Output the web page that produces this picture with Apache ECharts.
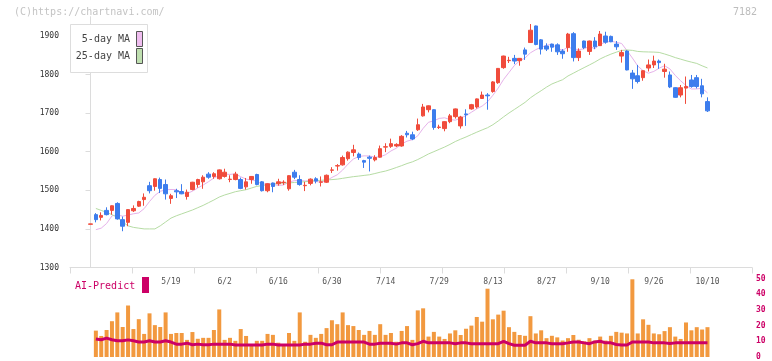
<!DOCTYPE html>
<html><head><meta charset="utf-8">
<script src="https://cdn.jsdelivr.net/npm/echarts@6/dist/echarts.min.js"></script>
<style>html,body{margin:0;padding:0;background:#fff;}#c{width:772px;height:361px;}</style>
</head><body><div id="c"></div>
<script>
// ---- data (index 0 = 4/23 ... index 115 = 10/10) ----
const opens = [1412,1437,1430,1448,1448,1466,1424,1417,1447,1459,
1476,1512,1510,1528,1515,1479,1499,1497,1484,1502,
1515,1522,1542,1536,1530,1536,1528,1528,1528,1509,
1528,1541,1522,1499,1519,1517,1520,1504,1547,1528,
1512,1518,1530,1521,1521,1552,1563,1566,1582,1598,
1594,1577,1586,1579,1586,1612,1614,1615,1615,1648,
1644,1657,1693,1709,1709,1663,1660,1678,1691,1667,
1698,1711,1716,1738,1747,1756,1779,1818,1836,1842,
1836,1864,1883,1926,1890,1874,1879,1877,1861,1870,
1906,1844,1887,1860,1887,1875,1900,1899,1879,1848,
1861,1804,1797,1792,1817,1825,1835,1808,1799,1766,
1747,1765,1786,1792,1771,1730];
const closes = [1413,1424,1435,1437,1460,1426,1407,1450,1453,1471,
1482,1499,1530,1505,1491,1486,1496,1491,1495,1521,
1528,1534,1534,1543,1553,1547,1529,1542,1505,1522,
1536,1515,1499,1517,1510,1522,1521,1538,1534,1515,
1513,1529,1524,1522,1539,1553,1564,1585,1599,1605,
1585,1573,1583,1585,1608,1613,1621,1619,1640,1644,
1633,1670,1716,1719,1663,1664,1678,1693,1711,1690,
1696,1722,1737,1747,1745,1781,1816,1848,1837,1835,
1842,1853,1915,1878,1866,1866,1871,1859,1854,1905,
1844,1861,1870,1887,1872,1905,1884,1885,1872,1857,
1812,1789,1782,1810,1825,1835,1831,1814,1768,1741,
1766,1769,1769,1769,1750,1706];
const lows = [1412,1417,1422,1435,1437,1424,1394,1407,1444,1457,
1460,1492,1499,1493,1476,1465,1480,1490,1476,1500,
1507,1504,1530,1530,1528,1533,1521,1526,1503,1502,
1517,1513,1497,1495,1495,1512,1514,1499,1529,1512,
1498,1513,1518,1510,1519,1545,1551,1564,1577,1588,
1579,1558,1549,1575,1585,1599,1610,1612,1613,1637,
1630,1654,1691,1702,1657,1659,1653,1674,1686,1660,
1667,1709,1712,1737,1709,1753,1776,1815,1830,1827,
1823,1838,1882,1876,1852,1861,1859,1851,1841,1859,
1834,1835,1866,1851,1866,1874,1880,1884,1864,1831,
1811,1763,1777,1784,1808,1817,1815,1792,1765,1740,
1741,1724,1766,1764,1741,1703];
const highs = [1413,1441,1443,1456,1461,1469,1432,1451,1461,1473,
1492,1522,1531,1533,1528,1491,1504,1516,1502,1522,
1530,1539,1547,1547,1554,1556,1539,1548,1533,1532,
1537,1543,1524,1518,1520,1530,1526,1539,1553,1539,
1522,1531,1534,1536,1541,1560,1568,1590,1601,1618,
1598,1579,1590,1591,1616,1622,1634,1622,1643,1654,
1652,1686,1724,1720,1710,1670,1679,1698,1712,1693,
1710,1724,1738,1756,1752,1783,1817,1849,1846,1851,
1843,1870,1931,1927,1892,1881,1880,1881,1866,1908,
1910,1868,1888,1888,1897,1913,1911,1901,1887,1864,
1863,1812,1825,1811,1839,1849,1839,1828,1808,1767,
1773,1795,1799,1799,1789,1741];
const volumes = [null,16.8,13.4,17.2,22.8,28.4,19.1,32.8,17.8,24.1,
14.7,27.8,20.3,19.1,28.4,14.7,15.3,15.3,10.9,15.9,
11.6,12.2,12.2,17.2,30.3,10.9,12.2,10.3,17.8,13.4,
7.8,10.3,10.3,14.7,14.1,9.1,7.8,15.3,10.3,28.4,
9.7,14.1,12.2,14.7,18.4,23.4,20.9,28.4,20.3,19.7,
17.2,14.1,16.6,14.1,20.9,14.1,15.3,9.7,16.6,19.7,
10.9,29.7,31,13,16,13,11.5,15,17,14,
18,20,25.5,22.5,43.5,24,27,29.5,19,16,
14,13.5,26,15,17,12,13.5,12.5,10.5,12,
14,11,10,12,10.5,13,10.5,13.5,16,15.5,
15,49.5,15,24,20.5,15,14.5,16.5,19,13,
11.5,22,17,19,17.5,19];
const ma5 = [null,1398,1402,1414,1433.8,1436.4,1433,1436,1439.2,1441.4,
1452.6,1471,1487,1497.4,1501.4,1502.2,1501.6,1493.8,1491.8,1497.8,
1506.2,1513.8,1522.4,1532,1538.4,1542.2,1541.2,1542.8,1535.2,1529,
1526.8,1524,1515.4,1517.8,1515.4,1512.6,1513.8,1521.6,1525,1526,
1524.2,1525.8,1523,1520.6,1525.4,1533.4,1540.4,1552.6,1568,1581.2,
1587.6,1589.4,1589,1586.2,1586.8,1592.4,1602,1609.2,1620.2,1627.4,
1631.4,1641.2,1660.6,1676.4,1680.2,1686.4,1688,1683.4,1681.8,1687.2,
1693.6,1702.4,1711.2,1718.4,1729.4,1746.4,1765.2,1787.4,1805.4,1823.4,
1835.6,1843,1856.4,1864.6,1870.8,1875.6,1879.2,1868,1863.2,1871,
1866.6,1864.6,1866.8,1873.4,1866.8,1879,1883.6,1886.6,1883.6,1880.6,
1862,1843,1822.4,1810,1803.6,1808.2,1816.6,1823,1814.6,1797.8,
1784,1771.6,1762.6,1762.8,1764.6,1752.6];
const ma25 = [null,1453,1448,1443,1437,1430,1418,1408,1404,1402,
1400,1400,1400,1408,1418,1428,1434,1439,1444,1449,
1455,1461,1468,1475,1482.6,1487.9,1492.1,1496.4,1499.1,1501.6,
1506,1510.3,1512.3,1514.8,1516.4,1518,1518.9,1519.2,1520.4,1521.3,
1522.4,1523.7,1525,1526.1,1526.8,1527.8,1529,1531.1,1533.3,1535.4,
1536.9,1538.7,1540.3,1543.5,1547,1550,1554.3,1559.1,1564,1569.4,
1573.8,1579.8,1586.9,1594.3,1600.2,1606.2,1612.2,1619,1626.5,1632.6,
1638.3,1644.6,1650.7,1656.6,1662.2,1670,1679.8,1690.4,1700.4,1709.5,
1718.7,1728,1739.8,1749.3,1758.2,1767.5,1775.6,1781.3,1786.7,1796.4,
1803.6,1810.9,1818,1825,1832.3,1840.6,1847.1,1853,1858,1862.5,
1863.8,1862.7,1860,1859,1858.6,1858.3,1857.4,1853.4,1849,1844,
1840,1835.9,1832.3,1828.9,1822.7,1817.2];
const aiPredict = [null,11.5,11,12,11,10.3,10.3,10.9,10.3,9.5,
9.5,10.3,9.5,9.5,10.3,9.5,8.2,8.2,8.8,7.8,
8.2,7.8,7.8,8.2,8.2,8.2,8.2,7.6,7.6,7.6,
7.6,7.6,7.6,8.2,8.2,7.6,7.6,7.6,7.6,7.6,
8.2,8.2,8.8,8.8,7.8,7.8,9.5,9.5,9.5,9.5,
9.5,9.5,8.2,8.2,8.8,8.8,8.8,8.2,9,9,
7.8,8.5,10,9,9,9,9,9,8.5,9,
9,8.5,8.5,8.5,8.5,8.5,8.5,10,8.5,7.5,
7.5,7.5,10,9,9,9,8.5,8.5,8.5,9,
9.6,9.6,9,8.5,9.6,10,9,9,8,7.6,
7.6,9.6,9.6,9.6,9.6,9,9,9,8.6,9,
9,9,9,9,9,9];
const tickLabels = ['5/19','6/2','6/16','6/30','7/14','7/29','8/13','8/27','9/10','9/26','10/10'];
const tickLabelIndex = [15,25,35,45,55,65,75,85,95,105,115];
const priceTicks = [1300,1400,1500,1600,1700,1800,1900];
const volumeTicks = [0,10,20,30,40,50];

// ---- layout ----
const FONT = '"DejaVu Sans Mono", monospace';
const PX_PER = 5.365;                 // pixels per trading day
const X_MIN = -(90.5 - 70) / PX_PER;  // first candle at x=90.5
const X_MAX = X_MIN + 682 / PX_PER;
const xTickVals = [];
for (let k = 0; k <= 11; k++) xTickVals.push(X_MIN + k * 62 / PX_PER);

const candleData = opens.map((o, i) => [i, o, closes[i], lows[i], highs[i]]);
const volData = volumes.map((v, i) => [i, v]).filter(d => d[1] != null);
const toXY = arr => arr.map((v, i) => [i, v]);

const chart = echarts.init(document.getElementById('c'), null, {renderer: 'canvas'});
chart.setOption({
  animation: false,
  backgroundColor: '#fff',
  grid: [
    {left: 70, right: 20, top: 16.7, height: 250.8},
    {left: 70, right: 20, top: 278.5, height: 80}
  ],
  xAxis: [
    {type: 'value', gridIndex: 0, min: X_MIN, max: X_MAX,
     axisLine: {show: true, lineStyle: {color: '#dcdcdc', width: 1}},
     axisTick: {show: true, customValues: xTickVals, length: 6, lineStyle: {color: '#dcdcdc'}},
     axisLabel: {show: true, customValues: tickLabelIndex, margin: 10,
       formatter: v => { const k = tickLabelIndex.indexOf(Math.round(v)); return k >= 0 ? tickLabels[k] : ''; },
       fontFamily: FONT, fontSize: 8, color: '#555'},
     splitLine: {show: false}},
    {type: 'value', gridIndex: 1, min: X_MIN, max: X_MAX, show: false, splitLine: {show: false}}
  ],
  yAxis: [
    {type: 'value', gridIndex: 0, min: 1300, max: 1950,
     axisLine: {show: true, lineStyle: {color: '#dcdcdc', width: 1}},
     axisTick: {show: true, customValues: priceTicks, length: 5, lineStyle: {color: '#dcdcdc'}},
     axisLabel: {customValues: priceTicks, margin: 11, fontFamily: FONT, fontSize: 8, color: '#333',
       formatter: v => String(v)},
     splitLine: {show: false}},
    {type: 'value', gridIndex: 1, min: 0, max: 50, position: 'right',
     axisLine: {show: false}, axisTick: {show: false},
     axisLabel: {customValues: volumeTicks, margin: 4, fontFamily: FONT, fontSize: 8, color: '#cc0066', fontWeight: 'bold',
       formatter: v => String(v)},
     splitLine: {show: false}}
  ],
  series: [
    {type: 'line', name: '5-day MA', xAxisIndex: 0, yAxisIndex: 0, data: toXY(ma5),
     showSymbol: false, lineStyle: {color: '#e6b2ea', width: 1}, z: 1, silent: true},
    {type: 'line', name: '25-day MA', xAxisIndex: 0, yAxisIndex: 0, data: toXY(ma25),
     showSymbol: false, lineStyle: {color: '#b6dca4', width: 1}, z: 1, silent: true},
    {type: 'candlestick', xAxisIndex: 0, yAxisIndex: 0, data: candleData, barWidth: 4, z: 2,
     itemStyle: {color: '#f04c3c', color0: '#3d7ded', borderColor: '#f04c3c', borderColor0: '#3d7ded', borderWidth: 1}},
    {type: 'bar', xAxisIndex: 1, yAxisIndex: 1, data: volData, barWidth: 4,
     itemStyle: {color: '#f2993f'}},
    {type: 'line', name: 'AI-Predict', xAxisIndex: 1, yAxisIndex: 1, data: toXY(aiPredict),
     showSymbol: false, lineStyle: {color: '#cc0066', width: 3}, z: 3}
  ],
  graphic: [
    {type: 'text', z: 100, style: {x: 14, y: 12.5, text: '(C)https://chartnavi.com/', font: '10px ' + FONT, fill: '#c4c4c4', verticalAlign: 'middle'}},
    {type: 'text', z: 100, style: {x: 757, y: 12.5, text: '7182', font: '10px ' + FONT, fill: '#bdbdbd', align: 'right', verticalAlign: 'middle'}},
    {type: 'rect', z: 100, shape: {x: 70.5, y: 24.5, width: 77, height: 48}, style: {fill: '#fff', stroke: '#dddddd', lineWidth: 1}},
    {type: 'text', z: 101, style: {x: 130, y: 39.5, text: '5-day MA', font: '10px ' + FONT, fill: '#444', align: 'right', verticalAlign: 'middle'}},
    {type: 'rect', z: 101, shape: {x: 136.5, y: 31.5, width: 6, height: 15}, style: {fill: '#efbdef', stroke: '#555', lineWidth: 1}},
    {type: 'text', z: 101, style: {x: 130, y: 56.5, text: '25-day MA', font: '10px ' + FONT, fill: '#444', align: 'right', verticalAlign: 'middle'}},
    {type: 'rect', z: 101, shape: {x: 136.5, y: 48.5, width: 6, height: 15}, style: {fill: '#bfdfb0', stroke: '#555', lineWidth: 1}},
    {type: 'text', z: 100, style: {x: 75, y: 286, text: 'AI-Predict', font: '10px ' + FONT, fill: '#cc0066', verticalAlign: 'middle'}},
    {type: 'rect', z: 100, shape: {x: 142, y: 277, width: 7, height: 16}, style: {fill: '#cc0066'}}
  ]
});
</script>
</body></html>
